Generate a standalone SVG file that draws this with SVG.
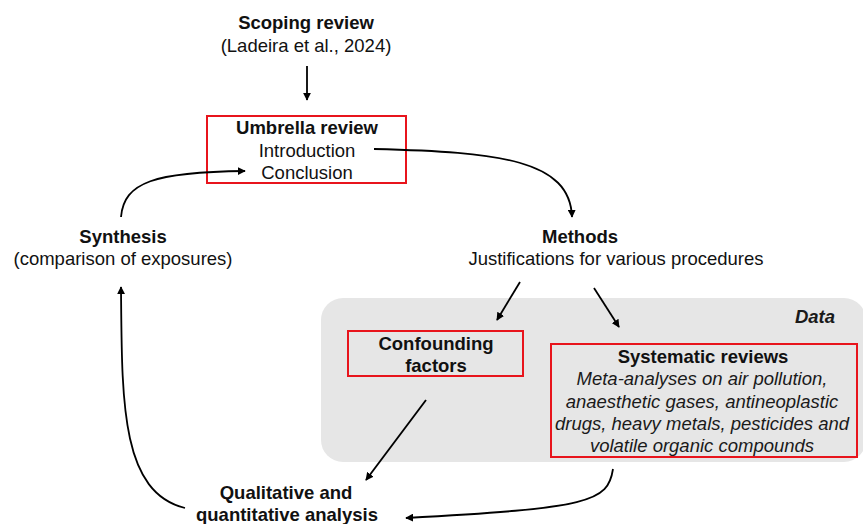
<svg xmlns="http://www.w3.org/2000/svg" width="863" height="524" viewBox="0 0 863 524">
<style>
text{font-family:"Liberation Sans",Arial,sans-serif;font-size:18.5px;fill:#111;text-anchor:middle}
.b{font-weight:bold}
.i{font-style:italic;fill:#1a1a1a}
.box{fill:none;stroke:#e8141c;stroke-width:2}
.c{fill:none;stroke:#000;stroke-width:1.8}
</style>
<defs>
<marker id="ah" viewBox="0 0 10 10" refX="9" refY="5" markerWidth="8" markerHeight="8" markerUnits="userSpaceOnUse" orient="auto">
<path d="M0,0 L10,5 L0,10 z" fill="#000"/>
</marker>
</defs>
<rect id="data-panel" x="321" y="298" width="545" height="164" rx="22" fill="#e6e6e6"/>
<g id="scoping">
<text class="b" x="306" y="29">Scoping review</text>
<text x="306" y="52">(Ladeira et al., 2024)</text>
</g>
<g id="umbrella">
<rect class="box" x="207" y="116" width="199" height="67"/>
<text class="b" x="307" y="134">Umbrella review</text>
<text x="307" y="157">Introduction</text>
<text x="307" y="179">Conclusion</text>
</g>
<g id="methods">
<text class="b" x="580" y="243">Methods</text>
<text x="616" y="265">Justifications for various procedures</text>
</g>
<g id="synthesis">
<text class="b" x="123" y="243">Synthesis</text>
<text x="123" y="265">(comparison of exposures)</text>
</g>
<g id="data-label">
<text class="b i" x="835" y="323" style="text-anchor:end">Data</text>
</g>
<g id="confounding">
<rect class="box" x="348" y="331" width="175" height="45"/>
<text class="b" x="436" y="350">Confounding</text>
<text class="b" x="436" y="372">factors</text>
</g>
<g id="systematic">
<rect class="box" x="551" y="344" width="306" height="113"/>
<text class="b" x="703" y="363">Systematic reviews</text>
<text class="i" x="702" y="385">Meta-analyses on air pollution,</text>
<text class="i" x="702" y="408">anaesthetic gases, antineoplastic</text>
<text class="i" x="702" y="430">drugs, heavy metals, pesticides and</text>
<text class="i" x="702" y="452">volatile organic compounds</text>
</g>
<g id="analysis">
<text class="b" x="286" y="499">Qualitative and</text>
<text class="b" x="287" y="521">quantitative analysis</text>
</g>
<g id="connectors">
<path class="c" d="M307,66 L307,100" marker-end="url(#ah)"/>
<path class="c" d="M374,149 C500,152 570,160 572,217" marker-end="url(#ah)"/>
<path class="c" d="M520,282 L497,320" marker-end="url(#ah)"/>
<path class="c" d="M594,288 L619,327" marker-end="url(#ah)"/>
<path class="c" d="M426,400 L366,480" marker-end="url(#ah)"/>
<path class="c" d="M613,469 C608,502 590,508 406,518" marker-end="url(#ah)"/>
<path class="c" d="M185,508 C120,492 122,400 121,287" marker-end="url(#ah)"/>
<path class="c" d="M121,217 C124,182 155,172 245,171" marker-end="url(#ah)"/>
</g>
</svg>
